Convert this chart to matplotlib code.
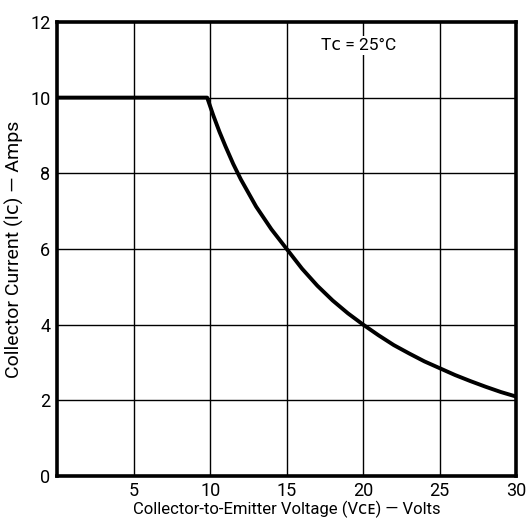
#!/usr/bin/env python3
"""Safe operating area curve, redrawn from a scanned datasheet figure."""

import matplotlib

matplotlib.use("Agg")
import matplotlib.pyplot as plt

# values
vce = [0, 9.8, 10.2, 10.6, 11.0, 11.5, 12, 13, 14, 15, 16, 17, 18, 19, 20,
       21, 22, 23, 24, 25, 26, 27, 28, 29, 30]
ic = [10, 10, 9.53, 9.10, 8.71, 8.25, 7.84, 7.12, 6.52, 6.0, 5.48, 5.03, 4.64,
      4.30, 4.0, 3.72, 3.46, 3.24, 3.03, 2.85, 2.67, 2.51, 2.36, 2.22, 2.1]

x_ticks = [5, 10, 15, 20, 25, 30]
y_ticks = [0, 2, 4, 6, 8, 10, 12]

FONT = ["Roboto", "DejaVu Sans"]
plt.rcParams["font.family"] = FONT

fig = plt.figure(figsize=(5.30, 5.22), dpi=100)
ax = fig.add_axes([0.108, 0.088, 0.866, 0.870])

ax.set_xlim(0, 30)
ax.set_ylim(0, 12)

for x in x_ticks[:-1]:
    ax.axvline(x, color="black", lw=1.0, zorder=1)
for y in y_ticks[1:-1]:
    ax.axhline(y, color="black", lw=1.0, zorder=1)

ax.plot(vce, ic, color="black", lw=2.8, solid_joinstyle="round", zorder=3)

ax.text(19.7, 11.37, "Tᴄ = 25°C", ha="center", va="center", fontsize=12.5,
        bbox=dict(facecolor="white", edgecolor="none", pad=1.5), zorder=2)

for s in ax.spines.values():
    s.set_linewidth(2.6)

ax.set_xticks(x_ticks)
ax.set_yticks(y_ticks)
ax.tick_params(length=0, labelsize=13, pad=5)
ax.tick_params(axis="x", pad=4)

ax.set_xlabel("Collector-to-Emitter Voltage (Vᴄᴇ) — Volts", fontsize=12, labelpad=1)
ax.set_ylabel("Collector Current (Iᴄ) — Amps", fontsize=14, labelpad=4)

fig.savefig("out.png", dpi=100)
